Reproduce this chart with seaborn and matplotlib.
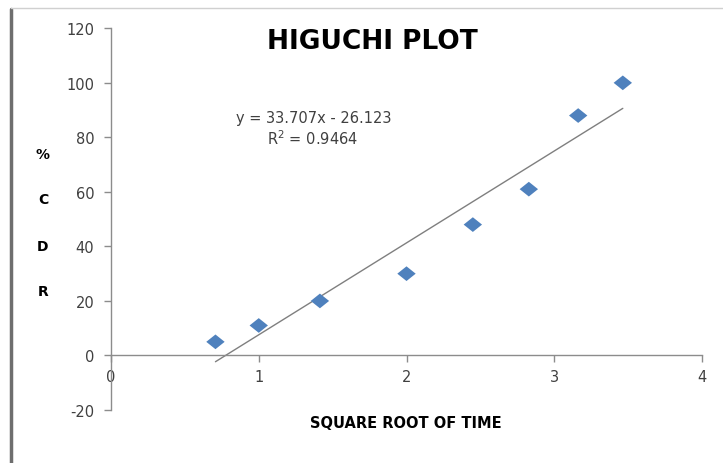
import numpy as np
import pandas as pd
import matplotlib
matplotlib.use("Agg")
import matplotlib.pyplot as plt
import seaborn as sns
from matplotlib.lines import Line2D

# Data
sqrt_time = [0.707, 1.0, 1.414, 2.0, 2.449, 2.828, 3.162, 3.464]
pct_cdr = [5, 11, 20, 30, 48, 61, 88, 100]
slope = 33.707
intercept = -26.123
r_squared = 0.9464
x_ticks = [0, 1, 2, 3, 4]
y_ticks = [-20, 0, 20, 40, 60, 80, 100, 120]

sns.set_theme(style="white")
plt.rcParams['font.family'] = ['DejaVu Sans']
plt.rcParams['axes.unicode_minus'] = False

fig = plt.figure(figsize=(7.23, 4.64), dpi=100)
ax = fig.add_axes([111/723, 1-411/464, (702-111)/723, (411-29.3)/464])

df = pd.DataFrame({"x": sqrt_time, "y": pct_cdr})
diamond = [(-1, 0), (0, 0.8), (1, 0), (0, -0.8), (-1, 0)]
sns.scatterplot(data=df, x="x", y="y", marker=diamond, s=175,
                color="#4F81BD", edgecolor="none", ax=ax, zorder=3)

xl = np.array([min(sqrt_time), max(sqrt_time)])
sns.lineplot(x=xl, y=slope * xl + intercept, color="#7f7f7f", lw=1.0, ax=ax, zorder=2)

ax.set_xlim(0, 4)
ax.set_ylim(-20, 120)
ax.set_xticks(x_ticks)
ax.set_yticks(y_ticks)
ax.set_xlabel("")
ax.set_ylabel("")

for s in ["top", "right"]:
    ax.spines[s].set_visible(False)
ax.spines["bottom"].set_position(("data", 0))
for s in ["left", "bottom"]:
    ax.spines[s].set_color("#8c8c8c")
    ax.spines[s].set_linewidth(1.0)

ax.tick_params(axis="both", which="both", direction="out", length=5, width=1,
               color="#8c8c8c", labelcolor="#404040", labelsize=10.5,
               left=True, bottom=True)
ax.tick_params(axis="y", pad=7)
ax.tick_params(axis="x", pad=5)

# Title and annotations
fig.text(372/723, 1-42/464, "HIGUCHI PLOT", ha="center", va="center",
         fontsize=19, fontweight="bold", color="black")
fig.text(314/723, 1-118/464, "y = 33.707x - 26.123", ha="center", va="center",
         fontsize=10.5, color="#404040")
fig.text(313/723, 1-139/464, "R$^2$ = 0.9464", ha="center", va="center",
         fontsize=10.5, color="#404040")
fig.text(406/723, 1-424/464, "SQUARE ROOT OF TIME", ha="center", va="center",
         fontsize=10.5, fontweight="bold", color="black")
for ch, yy in zip(["%", "C", "D", "R"], [155, 200, 247, 292]):
    fig.text(43/723, 1-yy/464, ch, ha="center", va="center",
             fontsize=10, fontweight="bold", color="black")

# Chart frame
fig.add_artist(Line2D([11/723, 11/723], [0, 1-10/464], transform=fig.transFigure,
                      color="#6e6e6e", lw=2.5))
fig.add_artist(Line2D([11/723, 1], [1-9/464, 1-9/464], transform=fig.transFigure,
                      color="#d0d0d0", lw=1))

fig.savefig("out.png", dpi=100)
